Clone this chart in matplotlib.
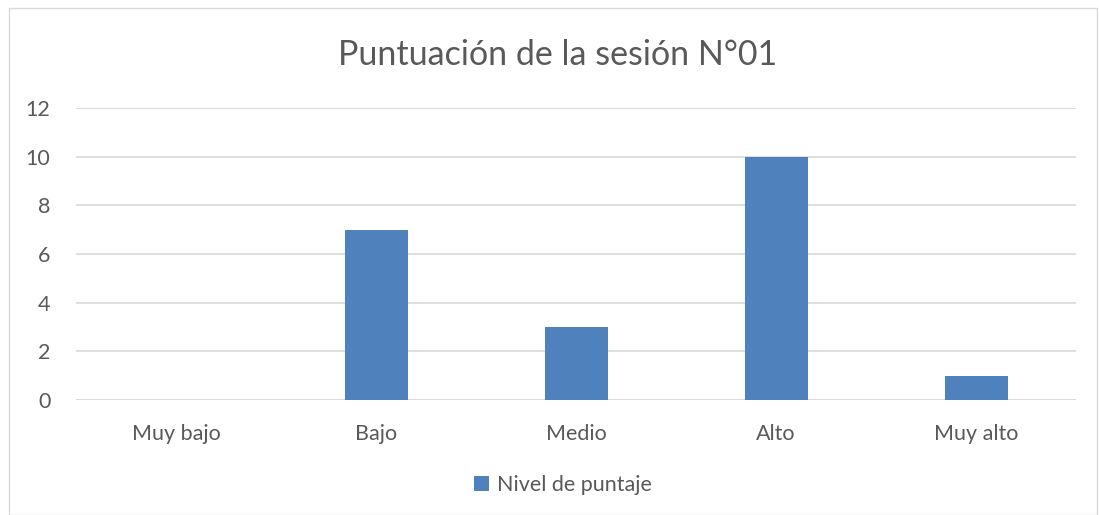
import matplotlib
matplotlib.use('Agg')
from matplotlib import pyplot as plt
from matplotlib.patches import Rectangle

# datos de la gráfica
categorias = ['Muy bajo', 'Bajo', 'Medio', 'Alto', 'Muy alto']
puntaje = [0, 7, 3, 10, 1]
serie = 'Nivel de puntaje'
titulo = 'Puntuación de la sesión N°01'

plt.rcParams['font.family'] = ['Lato', 'DejaVu Sans']
gris = '#595959'
azul = '#4F81BD'

fig = plt.figure(figsize=(10.99, 5.15), dpi=100)
# marco del gráfico
fig.patches.append(Rectangle((9 / 1099, 0), 1 - 9 / 1099 - 2 / 1099, 1 - 8 / 515,
                             transform=fig.transFigure, fill=False,
                             edgecolor='#D9D9D9', linewidth=1))

ax = fig.add_axes([76 / 1099, 1 - 400 / 515, 1000 / 1099, 292 / 515])
x = range(len(categorias))
barras = ax.bar(x, puntaje, width=0.315, color=azul, label=serie, zorder=3)

ax.set_xlim(-0.5, len(categorias) - 0.5)
ax.set_ylim(0, 12)
ax.set_yticks(range(0, 13, 2))
ax.set_xticks(list(x))
ax.set_xticklabels(categorias)
ax.tick_params(axis='both', length=0, labelsize=15.5, colors=gris)
ax.tick_params(axis='y', pad=18.5)
ax.tick_params(axis='x', pad=17)
ax.grid(axis='y', color='#D9D9D9', linewidth=1.2, zorder=0)
for s in ax.spines.values():
    s.set_visible(False)
ax.axhline(0, color='#D9D9D9', linewidth=1.2, zorder=2)

fig.text(558 / 1099, 1 - 55 / 515, titulo, ha='center', va='center',
         fontsize=24.5, color=gris)
fig.legend(handles=[barras], labels=[serie], loc='center',
           bbox_to_anchor=(563 / 1099, 1 - 485 / 515), frameon=False,
           fontsize=15.5, labelcolor=gris, handlelength=0.7, handleheight=0.7,
           handletextpad=0.35)

fig.savefig('out.png', dpi=100)
